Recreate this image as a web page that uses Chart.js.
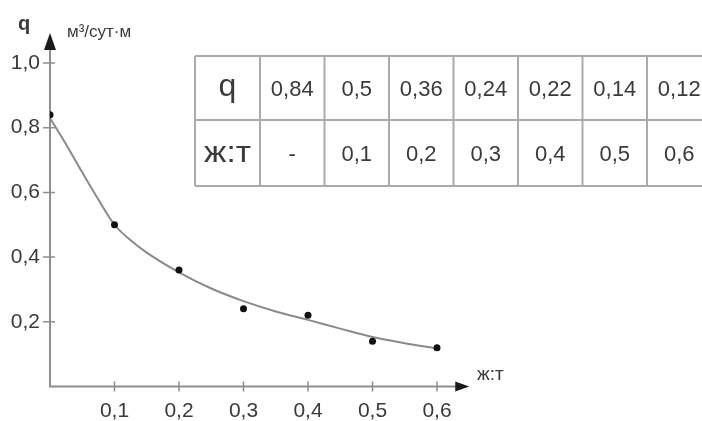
<!DOCTYPE html>
<html><head><meta charset="utf-8">
<script src="https://cdn.jsdelivr.net/npm/chart.js@4.4.1/dist/chart.umd.min.js"></script>
<style>html,body{margin:0;padding:0;background:#fff;} canvas{display:block;}</style>
</head><body>
<canvas id="c" width="702" height="421"></canvas>
<script>
// ---- data ----
const ratios = [0, 0.1, 0.2, 0.3, 0.4, 0.5, 0.6];
const qValues = [0.84, 0.5, 0.36, 0.24, 0.22, 0.14, 0.12];
const qTableLabels = ['0,84', '0,5', '0,36', '0,24', '0,22', '0,14', '0,12'];
const ratioTableLabels = ['-', '0,1', '0,2', '0,3', '0,4', '0,5', '0,6'];
const curveRatios = [0, 0.025, 0.05, 0.075, 0.1, 0.125, 0.15, 0.2, 0.25, 0.3, 0.35, 0.4, 0.45, 0.5, 0.55, 0.6];
const curveQ = [0.83, 0.748, 0.662, 0.578, 0.5, 0.452, 0.414, 0.353, 0.303, 0.264, 0.232, 0.206, 0.179, 0.153, 0.134, 0.117];
const xTicks = [0.1, 0.2, 0.3, 0.4, 0.5, 0.6];
const yTicks = [0.2, 0.4, 0.6, 0.8, 1.0];
const yAxisTitle = 'q';
const yAxisUnit = 'м³/сут·м';
const xAxisTitle = 'ж:т';
const tableRowHeads = ['q', 'ж:т'];

const FONT = "'Liberation Sans', Arial, sans-serif";
const TEXT = '#3a3a3a';
const AXIS = '#8e8e8e';
const fmt = v => Number(v).toFixed(1).replace('.', ',');

const axesPlugin = {
  id: 'axesPlugin',
  beforeDatasetsDraw(chart) {
    const {ctx, scales: {x, y}} = chart;
    const x0 = x.getPixelForValue(0), y0 = y.getPixelForValue(0);
    const xEnd = x.getPixelForValue(0.65), yEnd = y.getPixelForValue(1.093);
    ctx.save();
    ctx.strokeStyle = AXIS; ctx.fillStyle = '#1a1a1a'; ctx.lineWidth = 2;
    ctx.beginPath();
    ctx.moveTo(x0, y0); ctx.lineTo(x0, yEnd + 14);
    ctx.moveTo(x0 - 1, y0); ctx.lineTo(xEnd - 12, y0);
    ctx.stroke();
    ctx.lineWidth = 1.5;
    ctx.beginPath();
    yTicks.forEach(v => { const p = y.getPixelForValue(v); ctx.moveTo(x0 - 7, p); ctx.lineTo(x0 + 5, p); });
    xTicks.forEach(v => { const p = x.getPixelForValue(v); ctx.moveTo(p, y0 - 5); ctx.lineTo(p, y0 + 5); });
    ctx.stroke();
    // arrows
    ctx.beginPath();
    ctx.moveTo(x0, yEnd); ctx.lineTo(x0 - 6, yEnd + 17); ctx.lineTo(x0 + 6, yEnd + 17); ctx.closePath();
    ctx.fill();
    ctx.beginPath();
    ctx.moveTo(xEnd, y0); ctx.lineTo(xEnd - 14, y0 - 5); ctx.lineTo(xEnd - 14, y0 + 5); ctx.closePath();
    ctx.fill();
    // titles
    ctx.fillStyle = TEXT;
    ctx.textBaseline = 'alphabetic';
    ctx.textAlign = 'left';
    ctx.font = 'bold 20px ' + FONT;
    ctx.fillText(yAxisTitle, 18, 30);
    ctx.font = '17px ' + FONT;
    ctx.fillText(yAxisUnit, 67, 37);
    ctx.font = '19px ' + FONT;
    ctx.fillText(xAxisTitle, 477, 380);
    ctx.restore();
  }
};

const tablePlugin = {
  id: 'tablePlugin',
  afterDraw(chart) {
    const ctx = chart.ctx;
    const left = 195, top = 56, firstW = 65, colW = 64.5, rowH = [64, 66];
    const n = qTableLabels.length;
    const right = left + firstW + n * colW;
    const bottom = top + rowH[0] + rowH[1];
    ctx.save();
    ctx.strokeStyle = '#ababab'; ctx.lineWidth = 2;
    ctx.beginPath();
    [top, top + rowH[0], bottom].forEach(yy => { ctx.moveTo(left, yy); ctx.lineTo(right, yy); });
    ctx.moveTo(left, top); ctx.lineTo(left, bottom);
    for (let i = 0; i <= n; i++) { const xx = left + firstW + i * colW; ctx.moveTo(xx, top); ctx.lineTo(xx, bottom); }
    ctx.stroke();
    ctx.fillStyle = TEXT; ctx.textAlign = 'center'; ctx.textBaseline = 'alphabetic';
    const c1 = top + rowH[0] / 2, c2 = top + rowH[0] + rowH[1] / 2;
    ctx.font = '32px ' + FONT;
    ctx.fillText(tableRowHeads[0], left + firstW / 2, 96);
    ctx.save();
    ctx.translate(left + firstW / 2, 161.5);
    ctx.scale(1.15, 1);
    ctx.font = '29px ' + FONT;
    ctx.fillText(tableRowHeads[1], 0, 0);
    ctx.restore();
    ctx.font = '22px ' + FONT;
    for (let i = 0; i < n; i++) {
      const cx = left + firstW + i * colW + colW / 2;
      ctx.fillText(qTableLabels[i], cx, c1 + 8);
      ctx.fillText(ratioTableLabels[i], cx, c2 + 8);
    }
    ctx.restore();
  }
};

new Chart(document.getElementById('c'), {
  type: 'scatter',
  data: {
    datasets: [
      {
        type: 'line',
        data: curveRatios.map((v, i) => ({x: v, y: curveQ[i]})),
        borderColor: '#8a8a8a', borderWidth: 2, pointRadius: 0,
        cubicInterpolationMode: 'monotone', fill: false, order: 2
      },
      {
        data: ratios.map((v, i) => ({x: v, y: qValues[i]})),
        pointRadius: 3.5, pointBackgroundColor: '#111', pointBorderWidth: 0,
        showLine: false, order: 1
      }
    ]
  },
  options: {
    responsive: false, animation: false, devicePixelRatio: 1,
    layout: {padding: {left: 0, top: 30.65, right: 232.75, bottom: 0}},
    plugins: {legend: {display: false}, tooltip: {enabled: false}},
    scales: {
      x: {
        type: 'linear', min: 0, max: 0.65,
        grid: {display: false, drawTicks: false}, border: {display: false},
        afterBuildTicks: s => { s.ticks = xTicks.map(v => ({value: v})); },
        afterFit: s => { s.height = 34.5; },
        ticks: {callback: v => fmt(v), font: {family: FONT, size: 21}, color: TEXT, padding: 12, maxRotation: 0, autoSkip: false}
      },
      y: {
        type: 'linear', min: 0, max: 1.1,
        grid: {display: false, drawTicks: false}, border: {display: false},
        afterBuildTicks: s => { s.ticks = yTicks.map(v => ({value: v})); },
        afterFit: s => { s.width = 50; },
        ticks: {callback: v => fmt(v), font: {family: FONT, size: 21}, color: TEXT, padding: 10, autoSkip: false}
      }
    }
  },
  plugins: [axesPlugin, tablePlugin]
});
</script>
</body></html>
